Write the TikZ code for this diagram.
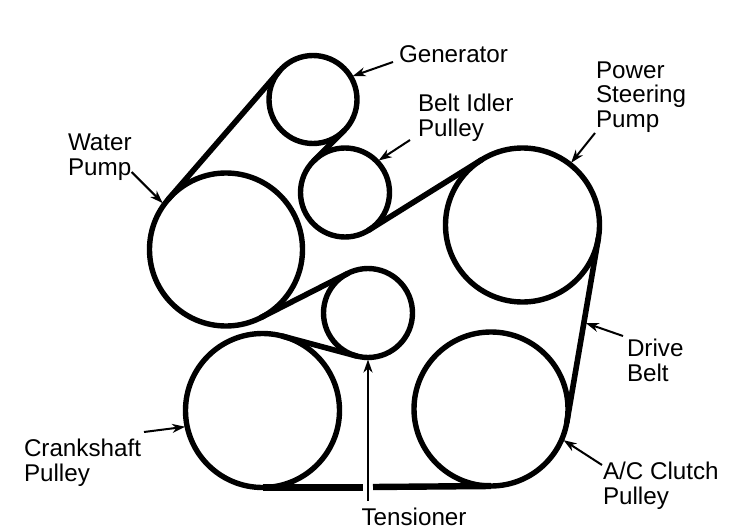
\documentclass[tikz,border=0pt]{standalone}
\usepackage{fontspec}
\setmainfont{Liberation Sans}
\usetikzlibrary{arrows.meta}
\tikzset{
  pulley/.style={circle,draw=black,line width=5.4pt,inner sep=0pt,outer sep=0pt,minimum size=#1},
  belt/.style={line width=5.6pt,line cap=round,draw=black},
  lab/.style={inner sep=0pt,outer sep=0pt,align=left,text=black,font=\fontsize{24.2}{24.8}\selectfont},
  pointer/.style={line width=2pt,draw=black,shorten >=2pt,-{Stealth[length=13pt,width=9pt,inset=4pt]}}
}
\begin{document}
\begin{tikzpicture}[x=1pt,y=-1pt]
\useasboundingbox[fill=white] (0,0) rectangle (736,532);
% pulleys (minimum size = path diameter)
\node[pulley=88pt] (gen) at (313,99.5) {};
\node[pulley=89pt] (idl) at (345,192.5) {};
\node[pulley=153pt] (wp) at (226,249.5) {};
\node[pulley=89pt] (ten) at (368,313) {};
\node[pulley=154pt] (cr) at (262.5,410.5) {};
\node[pulley=154pt] (ps) at (522.5,225) {};
\node[pulley=154pt] (ac) at (491,409) {};
% belt runs
\draw[belt] (wp.139) -- (gen.139);
\draw[belt] (gen.-45) -- (idl.135);
\draw[belt] (idl.-58) -- (ps.122);
\draw[belt] (wp.-63) -- (ten.117);
\draw[belt] (cr.75) -- (ten.-105);
\draw[belt] (ps.-10) -- coordinate[pos=0.457] (beltpt) (ac.-10);
\coordinate (gapL) at (363,487.5);
\coordinate (gapR) at (373,487);
\draw[belt,line cap=butt,line width=6.4pt] (cr.-90) -- (gapL);
\draw[belt,line cap=butt,line width=6.4pt] (gapR) -- (ac.-90);
% labels
\node[lab,anchor=west] (lgen) at (399,54.5) {Generator};
\node[lab,anchor=west] (lidl) at (418,118) {Belt Idler\\Pulley};
\node[lab,anchor=west] (lps) at (596,97) {Power\\Steering\\Pump};
\node[lab,anchor=west] (lwp) at (68,157) {Water\\Pump};
\node[lab,anchor=west] (ldb) at (627,360.5) {Drive\\Belt};
\node[lab,anchor=west] (lac) at (603,486) {A/C Clutch\\Pulley};
\node[lab,anchor=west] (lcr) at (24,463) {Crankshaft\\Pulley};
\node[lab,anchor=center] (lten) at (414,516.5) {Tensioner};
% pointers
\draw[pointer] ([xshift=-6pt,yshift=-7.5pt]lgen.west) -- (gen.31);
\draw[pointer] ([xshift=-8pt,yshift=-22pt]lidl.west) -- (idl.44);
\draw[pointer] ([xshift=0pt,yshift=-15pt]lwp.east) -- (wp.144);
\draw[pointer] ([xshift=-1pt,yshift=-36pt]lps.west) -- (ps.52);
\draw[pointer] ([xshift=-4pt,yshift=24.5pt]ldb.west) -- (beltpt);
\draw[pointer] ([xshift=-1pt,yshift=21pt]lac.west) -- (ac.-23);
\draw[pointer] ([xshift=3pt,yshift=31pt]lcr.east) -- (cr.192);
\draw[pointer,line width=2.4pt] ([xshift=-46pt,yshift=15.5pt]lten.center) -- (ten.-90);
\end{tikzpicture}
\end{document}
